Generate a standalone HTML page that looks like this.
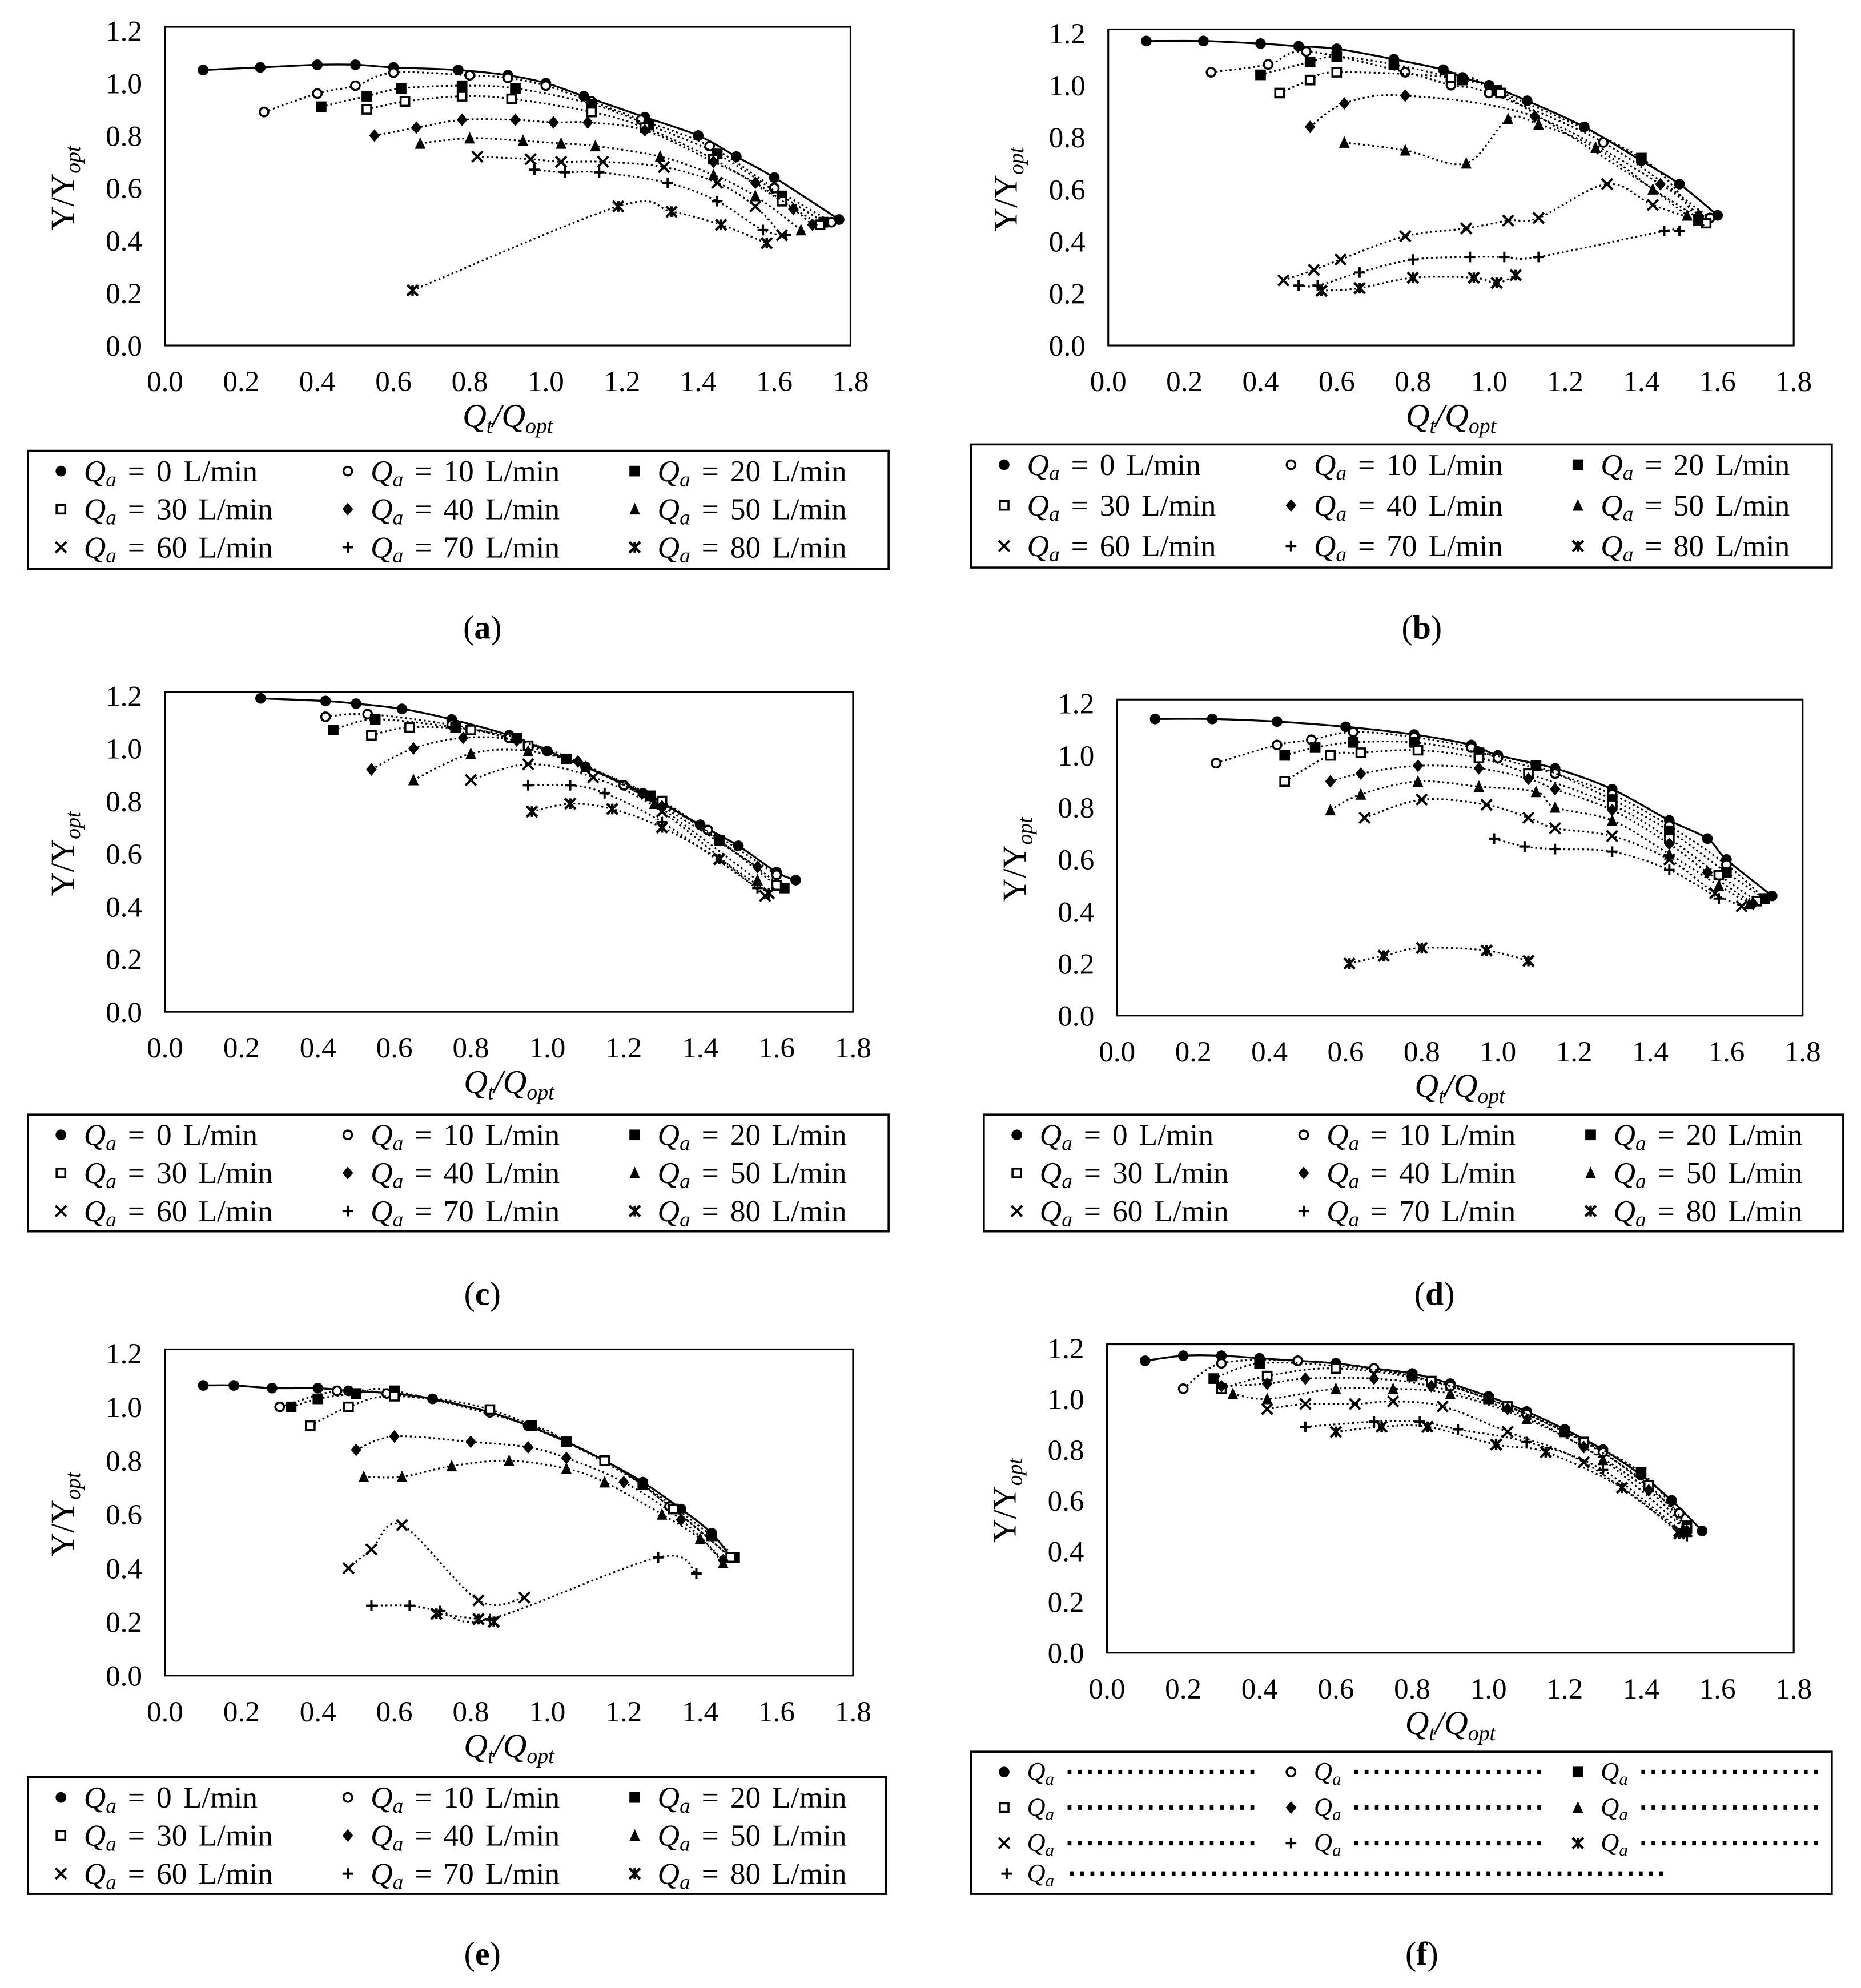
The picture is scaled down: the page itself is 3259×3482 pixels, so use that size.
<!DOCTYPE html>
<html><head><meta charset="utf-8">
<style>
html,body{margin:0;padding:0;background:#fff;}
svg{display:block;font-family:"Liberation Serif","DejaVu Serif",serif;}
</style></head>
<body>
<svg id="chart" width="3259" height="3482" viewBox="0 0 1466 1566" xmlns="http://www.w3.org/2000/svg"></svg>
<script>
// ---- Data (x = Qt/Qopt, y = Υ/Υopt), one array per series per panel ----
const seriesLabels = ["0","10","20","30","40","50","60","70","80"];
const markerTypes = ["dot","ring","square","osquare","diamond","triangle","cross","plus","star"];
const xTicks = [0.0,0.2,0.4,0.6,0.8,1.0,1.2,1.4,1.6,1.8];
const yTicks = [0.0,0.2,0.4,0.6,0.8,1.0,1.2];

const a0=[[0.1,1.05],[0.25,1.06],[0.4,1.07],[0.5,1.07],[0.6,1.06],[0.77,1.05],[0.9,1.03],[1.0,1.0],[1.1,0.95],[1.26,0.87],[1.4,0.8],[1.5,0.72],[1.6,0.64],[1.77,0.48]];
const a1=[[0.26,0.89],[0.4,0.96],[0.5,0.99],[0.6,1.04],[0.8,1.03],[0.9,1.02],[1.0,0.99],[1.12,0.93],[1.25,0.86],[1.43,0.76],[1.6,0.6],[1.75,0.47]];
const a2=[[0.41,0.91],[0.53,0.95],[0.62,0.98],[0.78,0.99],[0.92,0.98],[1.12,0.92],[1.27,0.84],[1.45,0.73],[1.62,0.57],[1.73,0.47]];
const a3=[[0.53,0.9],[0.63,0.93],[0.78,0.95],[0.91,0.94],[1.12,0.89],[1.26,0.83],[1.44,0.71],[1.62,0.55],[1.72,0.46]];
const a4=[[0.55,0.8],[0.66,0.83],[0.78,0.86],[0.92,0.86],[1.02,0.85],[1.11,0.85],[1.26,0.82],[1.44,0.7],[1.55,0.62],[1.65,0.52],[1.7,0.46]];
const a5=[[0.67,0.77],[0.8,0.79],[0.94,0.78],[1.04,0.77],[1.13,0.76],[1.3,0.72],[1.44,0.65],[1.55,0.57],[1.67,0.44]];
const a6=[[0.82,0.72],[0.96,0.71],[1.04,0.7],[1.15,0.7],[1.31,0.68],[1.45,0.62],[1.55,0.53],[1.62,0.42]];
const a7=[[0.97,0.67],[1.05,0.66],[1.14,0.66],[1.32,0.62],[1.45,0.55],[1.57,0.44],[1.63,0.42]];
const a8=[[0.65,0.21],[1.19,0.53],[1.33,0.51],[1.46,0.46],[1.58,0.39]];

const b0=[[0.1,1.17],[0.25,1.17],[0.4,1.16],[0.5,1.15],[0.6,1.14],[0.75,1.1],[0.88,1.06],[0.93,1.03],[1.0,1.0],[1.1,0.94],[1.25,0.84],[1.4,0.71],[1.5,0.62],[1.6,0.5]];
const b1=[[0.27,1.05],[0.42,1.08],[0.52,1.13],[0.78,1.05],[0.9,1.0],[1.0,0.97],[1.3,0.78],[1.58,0.49]];
const b2=[[0.4,1.04],[0.53,1.09],[0.6,1.11],[0.75,1.08],[0.93,1.02],[1.02,0.98],[1.4,0.72],[1.55,0.48]];
const b3=[[0.45,0.97],[0.53,1.02],[0.6,1.05],[0.9,1.03],[1.03,0.97],[1.57,0.47]];
const b4=[[0.53,0.84],[0.62,0.93],[0.78,0.96],[1.12,0.88],[1.45,0.62],[1.55,0.5]];
const b5=[[0.62,0.78],[0.78,0.75],[0.94,0.7],[1.05,0.87],[1.13,0.85],[1.28,0.76],[1.43,0.6],[1.52,0.5]];
const b6=[[0.46,0.25],[0.54,0.29],[0.61,0.33],[0.78,0.42],[0.94,0.45],[1.05,0.48],[1.13,0.49],[1.31,0.62],[1.43,0.54],[1.55,0.48]];
const b7=[[0.5,0.23],[0.55,0.23],[0.66,0.28],[0.8,0.33],[0.95,0.34],[1.04,0.34],[1.13,0.34],[1.46,0.44],[1.5,0.44]];
const b8=[[0.56,0.21],[0.66,0.22],[0.8,0.26],[0.96,0.26],[1.02,0.24],[1.07,0.27]];

const c0=[[0.25,1.19],[0.42,1.18],[0.5,1.17],[0.62,1.15],[0.75,1.11],[0.9,1.05],[1.0,0.99],[1.1,0.93],[1.25,0.83],[1.4,0.71],[1.5,0.63],[1.6,0.53],[1.65,0.5]];
const c1=[[0.42,1.12],[0.53,1.13],[0.75,1.09],[0.9,1.04],[1.05,0.96],[1.2,0.86],[1.42,0.69],[1.6,0.52]];
const c2=[[0.44,1.07],[0.55,1.11],[0.76,1.08],[0.92,1.04],[1.05,0.96],[1.27,0.82],[1.45,0.65],[1.62,0.47]];
const c3=[[0.54,1.05],[0.64,1.08],[0.8,1.07],[0.95,1.01],[1.3,0.8],[1.6,0.48]];
const c4=[[0.54,0.92],[0.65,1.0],[0.78,1.04],[0.92,1.03],[1.08,0.95],[1.3,0.78],[1.55,0.55]];
const c5=[[0.65,0.88],[0.8,0.98],[0.95,0.99],[1.1,0.93],[1.28,0.79],[1.55,0.5]];
const c6=[[0.8,0.88],[0.95,0.94],[1.12,0.89],[1.3,0.76],[1.57,0.44]];
const c7=[[0.95,0.86],[1.06,0.86],[1.15,0.83],[1.3,0.72],[1.55,0.47]];
const c8=[[0.96,0.76],[1.06,0.79],[1.17,0.77],[1.3,0.7],[1.45,0.58],[1.58,0.45]];

const d0=[[0.1,1.14],[0.25,1.14],[0.42,1.13],[0.6,1.11],[0.78,1.08],[0.93,1.04],[1.0,1.0],[1.15,0.95],[1.3,0.87],[1.45,0.75],[1.55,0.68],[1.6,0.6],[1.72,0.46]];
const d1=[[0.26,0.97],[0.42,1.04],[0.51,1.06],[0.62,1.09],[0.78,1.07],[0.93,1.03],[1.0,0.99],[1.15,0.93],[1.3,0.85],[1.45,0.73],[1.6,0.58],[1.7,0.45]];
const d2=[[0.44,1.0],[0.52,1.03],[0.62,1.05],[0.78,1.05],[0.95,1.01],[1.1,0.96],[1.3,0.83],[1.45,0.71],[1.6,0.55],[1.7,0.45]];
const d3=[[0.44,0.9],[0.56,1.0],[0.64,1.01],[0.79,1.02],[0.95,0.99],[1.08,0.93],[1.3,0.81],[1.45,0.68],[1.58,0.54],[1.68,0.44]];
const d4=[[0.56,0.9],[0.64,0.93],[0.79,0.96],[0.95,0.95],[1.08,0.91],[1.15,0.87],[1.3,0.79],[1.45,0.66],[1.55,0.55],[1.67,0.43]];
const d5=[[0.56,0.79],[0.64,0.85],[0.79,0.9],[0.95,0.88],[1.1,0.86],[1.15,0.8],[1.3,0.75],[1.45,0.62],[1.58,0.5],[1.66,0.43]];
const d6=[[0.65,0.76],[0.8,0.83],[0.97,0.81],[1.08,0.76],[1.15,0.72],[1.3,0.69],[1.45,0.6],[1.57,0.47],[1.64,0.42]];
const d7=[[0.99,0.68],[1.07,0.65],[1.15,0.64],[1.3,0.63],[1.45,0.56],[1.58,0.45]];
const d8=[[0.61,0.2],[0.7,0.23],[0.8,0.26],[0.97,0.25],[1.08,0.21]];

const e0=[[0.1,1.08],[0.18,1.08],[0.28,1.07],[0.4,1.07],[0.48,1.06],[0.6,1.05],[0.7,1.03],[0.85,0.98],[0.95,0.93],[1.05,0.87],[1.15,0.8],[1.25,0.72],[1.35,0.62],[1.43,0.53],[1.48,0.44]];
const e1=[[0.3,1.0],[0.45,1.06],[0.58,1.05],[0.85,0.98],[1.15,0.8],[1.32,0.63],[1.48,0.44]];
const e2=[[0.33,1.0],[0.4,1.03],[0.5,1.05],[0.6,1.06],[0.96,0.93],[1.05,0.87],[1.25,0.71],[1.43,0.52],[1.49,0.44]];
const e3=[[0.38,0.93],[0.48,1.0],[0.6,1.04],[0.85,0.99],[1.15,0.8],[1.33,0.62],[1.48,0.44]];
const e4=[[0.5,0.84],[0.6,0.89],[0.8,0.87],[0.95,0.85],[1.05,0.81],[1.2,0.72],[1.35,0.58],[1.46,0.43]];
const e5=[[0.52,0.74],[0.62,0.74],[0.75,0.78],[0.9,0.8],[1.05,0.77],[1.15,0.72],[1.3,0.6],[1.4,0.51],[1.46,0.42]];
const e6=[[0.48,0.4],[0.54,0.47],[0.62,0.56],[0.82,0.28],[0.94,0.29]];
const e7=[[0.54,0.26],[0.64,0.26],[0.72,0.24],[0.85,0.21],[1.29,0.44],[1.39,0.38]];
const e8=[[0.71,0.23],[0.82,0.21],[0.86,0.2]];

const f0=[[0.1,1.15],[0.2,1.17],[0.3,1.17],[0.4,1.16],[0.5,1.15],[0.6,1.14],[0.7,1.12],[0.8,1.1],[0.9,1.06],[1.0,1.01],[1.1,0.95],[1.2,0.88],[1.3,0.8],[1.4,0.7],[1.48,0.6],[1.56,0.48]];
const f1=[[0.2,1.04],[0.3,1.14],[0.5,1.15],[0.7,1.12],[0.9,1.05],[1.1,0.94],[1.3,0.79],[1.5,0.55]];
const f2=[[0.28,1.08],[0.4,1.14],[0.6,1.13],[0.8,1.09],[1.0,1.0],[1.2,0.87],[1.4,0.71],[1.52,0.5]];
const f3=[[0.3,1.04],[0.42,1.09],[0.6,1.12],[0.85,1.07],[1.05,0.97],[1.25,0.83],[1.42,0.66],[1.52,0.49]];
const f4=[[0.3,1.05],[0.42,1.06],[0.52,1.08],[0.7,1.08],[0.85,1.05],[1.05,0.96],[1.25,0.81],[1.42,0.64],[1.52,0.48]];
const f5=[[0.33,1.02],[0.42,1.0],[0.6,1.04],[0.75,1.04],[0.9,1.02],[1.1,0.92],[1.3,0.76],[1.52,0.48]];
const f6=[[0.42,0.96],[0.52,0.98],[0.65,0.98],[0.75,0.99],[0.88,0.97],[1.05,0.87],[1.25,0.75],[1.5,0.48]];
const f7=[[0.52,0.89],[0.7,0.91],[0.82,0.91],[0.92,0.88],[1.1,0.83],[1.3,0.72],[1.52,0.46]];
const f8=[[0.6,0.87],[0.72,0.89],[0.84,0.89],[1.02,0.82],[1.15,0.79],[1.35,0.65],[1.5,0.47]];

const panels=[
 {id:"a",data:[a0,a1,a2,a3,a4,a5,a6,a7,a8],x0:130,x1:670,y0:272,y12:24,leg:[22,355,678,93,30],cap:[380,495]},
 {id:"b",data:[b0,b1,b2,b3,b4,b5,b6,b7,b8],x0:873,x1:1413,y0:272,y12:26,leg:[765,350,678,97,32],cap:[1120,495]},
 {id:"c",data:[c0,c1,c2,c3,c4,c5,c6,c7,c8],x0:130,x1:672,y0:797,y12:548,leg:[22,878,678,92,30],cap:[380,1020]},
 {id:"d",data:[d0,d1,d2,d3,d4,d5,d6,d7,d8],x0:880,x1:1420,y0:800,y12:554,leg:[775,878,677,92,30],cap:[1130,1020]},
 {id:"e",data:[e0,e1,e2,e3,e4,e5,e6,e7,e8],x0:130,x1:672,y0:1320,y12:1066,leg:[22,1400,676,92,30],cap:[380,1540]},
 {id:"f",data:[f0,f1,f2,f3,f4,f5,f6,f7,f8],x0:872,x1:1413,y0:1302,y12:1062,leg:[765,1380,678,112,28],cap:[1120,1540],broken:true}
];

const NS="http://www.w3.org/2000/svg";
const svg=document.getElementById("chart");
function el(tag,attrs,parent){const e=document.createElementNS(NS,tag);for(const k in attrs)e.setAttribute(k,attrs[k]);(parent||svg).appendChild(e);return e;}

function marker(g,type,x,y){
  const r=4.2;let m;
  if(type==="dot") m=el("circle",{cx:x,cy:y,r:r,fill:"#000"},g);
  else if(type==="ring") m=el("circle",{cx:x,cy:y,r:r-0.8,fill:"#fff",stroke:"#000","stroke-width":1.6},g);
  else if(type==="square") m=el("rect",{x:x-r,y:y-r,width:2*r,height:2*r,fill:"#000"},g);
  else if(type==="osquare") m=el("rect",{x:x-r+0.8,y:y-r+0.8,width:2*r-1.6,height:2*r-1.6,fill:"#fff",stroke:"#000","stroke-width":1.6},g);
  else if(type==="diamond") m=el("path",{d:`M${x} ${y-r-0.8}L${x+r} ${y}L${x} ${y+r+0.8}L${x-r} ${y}Z`,fill:"#000"},g);
  else if(type==="triangle") m=el("path",{d:`M${x} ${y-r-0.8}L${x+r} ${y+r}L${x-r} ${y+r}Z`,fill:"#000"},g);
  else if(type==="cross") m=el("path",{d:`M${x-r} ${y-r}L${x+r} ${y+r}M${x+r} ${y-r}L${x-r} ${y+r}`,stroke:"#000","stroke-width":1.8},g);
  else if(type==="plus") m=el("path",{d:`M${x-r} ${y}L${x+r} ${y}M${x} ${y-r}L${x} ${y+r}`,stroke:"#000","stroke-width":1.8},g);
  else m=el("path",{d:`M${x-r} ${y-r}L${x+r} ${y+r}M${x+r} ${y-r}L${x-r} ${y+r}M${x} ${y-r}L${x} ${y+r}`,stroke:"#000","stroke-width":2},g);
  
  
  return m;
}
function spline(pts){
  if(pts.length<2)return "";
  let d=`M${pts[0][0]} ${pts[0][1]}`;
  for(let i=0;i<pts.length-1;i++){
    const p0=pts[Math.max(0,i-1)],p1=pts[i],p2=pts[i+1],p3=pts[Math.min(pts.length-1,i+2)];
    const c1=[p1[0]+(p2[0]-p0[0])/6,p1[1]+(p2[1]-p0[1])/6];
    const c2=[p2[0]-(p3[0]-p1[0])/6,p2[1]-(p3[1]-p1[1])/6];
    d+=`C${c1[0]} ${c1[1]} ${c2[0]} ${c2[1]} ${p2[0]} ${p2[1]}`;
  }
  return d;
}
function qa(parent,x,y,size){
  const t=el("text",{x:x,y:y,"font-size":size},parent);
  const q=el("tspan",{"font-style":"italic"},t);q.textContent="Q";
  const s=el("tspan",{"font-style":"italic","font-size":size*0.7,dy:4},t);s.textContent="a";
  return t;
}

panels.forEach(p=>{
  const g=el("g",{});
  
  
  const sx=v=>p.x0+(p.x1-p.x0)*v/1.8;
  const sy=v=>p.y0-(p.y0-p.y12)*v/1.2;
  const fr=el("rect",{x:p.x0,y:p.y12-3,width:p.x1-p.x0,height:p.y0-p.y12+3,fill:"none",stroke:"#000","stroke-width":1.4},g);
  
  
  xTicks.forEach(v=>{
    const t=el("text",{x:sx(v),y:p.y0+36,"font-size":23,"text-anchor":"middle"},g);
    t.textContent=v.toFixed(1);
    
    
  });
  yTicks.forEach(v=>{
    const t=el("text",{x:p.x0-18,y:sy(v)+8,"font-size":23,"text-anchor":"end"},g);
    t.textContent=v.toFixed(1);
    
    
  });
  const xt=el("text",{x:(p.x0+p.x1)/2,y:p.y0+64,"font-size":26,"text-anchor":"middle","font-style":"italic"},g);
  
  
  let s1=el("tspan",{},xt);s1.textContent="Q";
  s1=el("tspan",{"font-size":17,dy:5},xt);s1.textContent="t";
  s1=el("tspan",{dy:-5},xt);s1.textContent="/Q";
  s1=el("tspan",{"font-size":17,dy:5},xt);s1.textContent="opt";
  const cy=(p.y0+p.y12)/2;
  const yt=el("text",{x:p.x0-72,y:cy,"font-size":26,"text-anchor":"middle",transform:`rotate(-90 ${p.x0-72} ${cy})`},g);
  
  
  s1=el("tspan",{},yt);s1.textContent="Υ/Υ";
  s1=el("tspan",{"font-size":17,dy:5,"font-style":"italic"},yt);s1.textContent="opt";
  p.data.forEach((ser,i)=>{
    const sg=el("g",{},g);
    
    
    const pts=ser.map(d=>[sx(d[0]),sy(d[1])]);
    const ln=el("path",{d:spline(pts),fill:"none",stroke:"#000","stroke-width":i===0?1.5:1.4,"stroke-dasharray":i===0?"none":"1.5 2.2"},sg);
    
    
    pts.forEach(pt=>marker(sg,markerTypes[i],pt[0],pt[1]));
  });
  const [lx,ly,lw,lh,gap]=p.leg;
  const lg=el("g",{},g);
  
  
  el("rect",{x:lx,y:ly,width:lw,height:lh,fill:"#fff",stroke:"#000","stroke-width":1.6},lg);
  seriesLabels.forEach((lab,i)=>{
    const col=i%3,row=Math.floor(i/3);
    const mx=lx+26+col*226, my=ly+16+row*gap;
    const eg=el("g",{},lg);
    
    
    marker(eg,markerTypes[i],mx,my);
    if(p.broken){
      qa(eg,mx+18,my+6,20);
      el("line",{x1:mx+50,y1:my,x2:mx+(col===2?190:200),y2:my,stroke:"#000","stroke-width":3.5,"stroke-dasharray":"3 5"},eg);
    } else {
      const t=qa(eg,mx+18,my+8,24);
      const r=el("tspan",{dy:-4},t);r.textContent=" = "+lab+" L/min";
      r.setAttribute("word-spacing","3");
    }
  });
  if(p.broken){
    const eg=el("g",{},lg);
    
    
    marker(eg,"plus",lx+28,ly+96);
    qa(eg,lx+44,ly+102,20);
    el("line",{x1:lx+78,y1:ly+96,x2:lx+550,y2:ly+96,stroke:"#000","stroke-width":3.5,"stroke-dasharray":"3 5"},eg);
  }
  const cp=el("text",{x:p.cap[0],y:p.cap[1]+8,"font-size":26,"text-anchor":"middle"},g);
  
  
  s1=el("tspan",{},cp);s1.textContent="(";
  s1=el("tspan",{"font-weight":"bold"},cp);s1.textContent=p.id;
  s1=el("tspan",{},cp);s1.textContent=")";
});
</script>
</body></html>
